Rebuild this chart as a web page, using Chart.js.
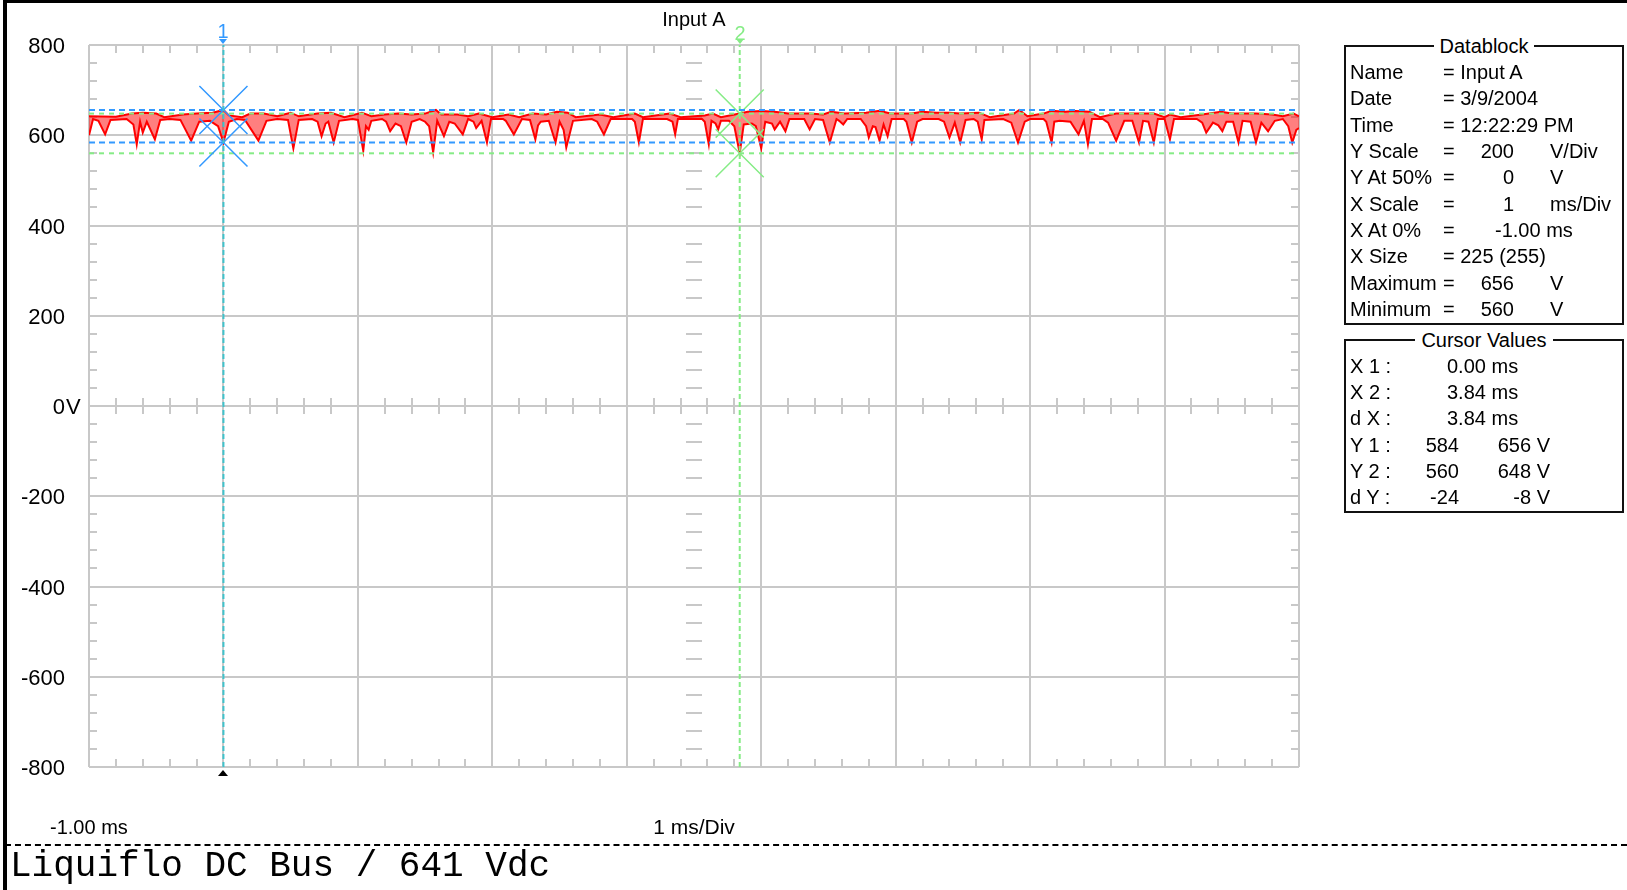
<!DOCTYPE html>
<html>
<head>
<meta charset="utf-8">
<title>Input A</title>
<script src="https://cdn.jsdelivr.net/npm/chart.js@4"></script>
<style>
  body { margin: 0; background: #fff; font-family: "Liberation Sans", Arial, sans-serif; color: #000; }
  #page { position: relative; width: 1627px; height: 890px; overflow: hidden; }
  #chartBox { position: absolute; left: 0; top: 0; width: 1627px; height: 890px; }
  .frameL { position: absolute; left: 3px; top: 0; width: 4px; height: 890px; background: #000; }
  .frameT { position: absolute; left: 3px; top: 0; width: 1624px; height: 3px; background: #000; }
  .xlabel { position: absolute; top: 815px; left: 50px; font-size: 20px; line-height: 24px; }
  .sep { position: absolute; left: 5px; top: 844px; width: 1622px; border-top: 2px dashed #000; }
  .caption { position: absolute; left: 10px; top: 848px; font: 36px/38px "Liberation Mono", "Courier New", monospace; white-space: pre; }
  .panel { position: absolute; left: 1344px; width: 276px; border: 2px solid #111; }
  .panel .legend { position: absolute; top: -13px; left: 0; right: 0; text-align: center; font-size: 20px; line-height: 24px; }
  .panel .legend span { background: #fff; padding: 0 6px; }
  .row { position: absolute; left: 0; right: 0; height: 24px; font-size: 20px; line-height: 24px; }
  .row span { position: absolute; top: 0; white-space: pre; }
  .k { left: 4px; }
  .eq { left: 97px; }
  .num { right: 108px; }
  .unit { left: 204px; }
  .xat { left: 149px; }
  .cv { left: 101px; }
  .c1 { right: 163px; }
  .c2 { right: 72px; }
</style>
</head>
<body>
<div id="page">
  <div id="chartBox"><canvas id="scope"></canvas></div>
  <div class="frameL"></div>
  <div class="frameT"></div>
  <div class="xlabel">-1.00 ms</div>
  <div class="sep"></div>
  <div class="caption">Liquiflo DC Bus / 641 Vdc</div>

  <div class="panel" style="top:45px;height:276px;">
    <div class="legend"><span>Datablock</span></div>
    <div class="row" style="top:13px"><span class="k">Name</span><span class="eq">= Input A</span></div>
    <div class="row" style="top:39px"><span class="k">Date</span><span class="eq">= 3/9/2004</span></div>
    <div class="row" style="top:66px"><span class="k">Time</span><span class="eq">= 12:22:29 PM</span></div>
    <div class="row" style="top:92px"><span class="k">Y Scale</span><span class="eq">=</span><span class="num">200</span><span class="unit">V/Div</span></div>
    <div class="row" style="top:118px"><span class="k">Y At 50%</span><span class="eq">=</span><span class="num">0</span><span class="unit">V</span></div>
    <div class="row" style="top:145px"><span class="k">X Scale</span><span class="eq">=</span><span class="num">1</span><span class="unit">ms/Div</span></div>
    <div class="row" style="top:171px"><span class="k">X At 0%</span><span class="eq">=</span><span class="xat">-1.00 ms</span></div>
    <div class="row" style="top:197px"><span class="k">X Size</span><span class="eq">= 225 (255)</span></div>
    <div class="row" style="top:224px"><span class="k">Maximum</span><span class="eq">=</span><span class="num">656</span><span class="unit">V</span></div>
    <div class="row" style="top:250px"><span class="k">Minimum</span><span class="eq">=</span><span class="num">560</span><span class="unit">V</span></div>
  </div>

  <div class="panel" style="top:339px;height:170px;">
    <div class="legend"><span>Cursor Values</span></div>
    <div class="row" style="top:13px"><span class="k">X 1 :</span><span class="cv">0.00 ms</span></div>
    <div class="row" style="top:39px"><span class="k">X 2 :</span><span class="cv">3.84 ms</span></div>
    <div class="row" style="top:65px"><span class="k">d X :</span><span class="cv">3.84 ms</span></div>
    <div class="row" style="top:92px"><span class="k">Y 1 :</span><span class="c1">584</span><span class="c2">656 V</span></div>
    <div class="row" style="top:118px"><span class="k">Y 2 :</span><span class="c1">560</span><span class="c2">648 V</span></div>
    <div class="row" style="top:144px"><span class="k">d Y :</span><span class="c1">-24</span><span class="c2">-8 V</span></div>
  </div>
</div>

<script>
// axis ranges (ms / V)
const xRange = [-1, 8];
const yRange = [-800, 800];
const yStep = 200;

// lower envelope of Input A (time in ms, volts)
const minTimeMs = [-1.00, -0.97, -0.93, -0.88, -0.84, -0.72, -0.67, -0.645, -0.62, -0.60, -0.57, -0.51, -0.47, -0.40, -0.32, -0.24, -0.18, -0.10, -0.04, 0.00,
  0.04, 0.10, 0.16, 0.26, 0.32, 0.40, 0.48, 0.52, 0.56, 0.66, 0.70, 0.73, 0.76, 0.78, 0.82, 0.86, 0.96, 1.00, 1.04, 1.06,
  1.08, 1.10, 1.18, 1.21, 1.24, 1.28, 1.32, 1.36, 1.40, 1.46, 1.50, 1.53, 1.56, 1.59, 1.64, 1.68, 1.72, 1.78, 1.82, 1.86,
  1.88, 1.92, 1.96, 1.99, 2.08, 2.10, 2.16, 2.22, 2.28, 2.32, 2.34, 2.36, 2.42, 2.47, 2.50, 2.53, 2.55, 2.60, 2.74, 2.78,
  2.83, 2.88, 3.04, 3.06, 3.09, 3.12, 3.30, 3.34, 3.36, 3.38, 3.56, 3.58, 3.61, 3.63, 3.66, 3.68, 3.70, 3.76, 3.80, 3.84,
  3.87, 3.93, 3.96, 4.00, 4.03, 4.08, 4.10, 4.14, 4.18, 4.21, 4.32, 4.36, 4.40, 4.46, 4.51, 4.56, 4.58, 4.61, 4.64, 4.74,
  4.78, 4.80, 4.83, 4.85, 4.88, 4.91, 4.94, 4.97, 5.06, 5.08, 5.12, 5.16, 5.20, 5.32, 5.36, 5.40, 5.44, 5.48, 5.52, 5.58,
  5.61, 5.64, 5.66, 5.80, 5.86, 5.91, 5.96, 6.00, 6.10, 6.12, 6.16, 6.18, 6.22, 6.30, 6.36, 6.40, 6.43, 6.46, 6.54, 6.58,
  6.64, 6.70, 6.76, 6.81, 6.84, 6.88, 6.92, 6.95, 7.00, 7.04, 7.07, 7.24, 7.28, 7.31, 7.36, 7.40, 7.43, 7.46, 7.51, 7.55,
  7.58, 7.64, 7.68, 7.72, 7.77, 7.82, 7.88, 7.92, 7.95, 7.98, 8.00];
const minVolts = [600, 636, 632, 602, 634, 636, 624, 580, 630, 606, 630, 591, 634, 636, 634, 588, 630, 632, 620, 584,
  630, 636, 634, 588, 632, 636, 634, 571, 634, 636, 630, 598, 626, 630, 584, 632, 636, 634, 566, 620,
  612, 632, 636, 630, 609, 626, 620, 584, 630, 636, 630, 620, 562, 632, 598, 630, 626, 602, 636, 630,
  616, 632, 584, 636, 636, 632, 602, 636, 634, 591, 622, 630, 632, 584, 630, 612, 573, 632, 636, 630,
  602, 636, 636, 630, 584, 636, 636, 630, 602, 636, 636, 630, 580, 632, 626, 613, 632, 632, 620, 560,
  624, 626, 620, 571, 630, 626, 613, 630, 609, 636, 636, 613, 636, 634, 584, 636, 632, 624, 636, 636,
  620, 595, 620, 618, 588, 624, 598, 636, 636, 630, 584, 630, 636, 636, 630, 595, 628, 584, 634, 636,
  630, 591, 634, 636, 628, 584, 630, 636, 636, 630, 584, 630, 632, 630, 602, 632, 580, 636, 636, 628,
  588, 632, 632, 584, 632, 630, 584, 636, 636, 591, 636, 636, 628, 606, 628, 622, 609, 630, 630, 584,
  632, 630, 584, 628, 609, 632, 636, 620, 584, 612, 616];

// upper envelope of Input A
const maxTimeMs = [-1.00, -0.80, -0.68, -0.60, -0.50, -0.44, -0.30, -0.20, -0.08, 0.00, 0.04, 0.14, 0.20, 0.30, 0.40, 0.50, 0.56, 0.70, 0.80, 0.90,
  1.03, 1.10, 1.20, 1.30, 1.40, 1.50, 1.58, 1.62, 1.74, 1.82, 1.90, 2.00, 2.12, 2.20, 2.30, 2.40, 2.48, 2.56, 2.62, 2.80,
  2.90, 3.06, 3.12, 3.32, 3.40, 3.58, 3.64, 3.70, 3.84, 3.90, 4.00, 4.10, 4.20, 4.36, 4.46, 4.52, 4.62, 4.78, 4.88, 4.96,
  5.12, 5.20, 5.30, 5.40, 5.48, 5.62, 5.70, 5.88, 5.92, 5.98, 6.10, 6.16, 6.26, 6.34, 6.44, 6.52, 6.64, 6.80, 6.92, 7.00,
  7.04, 7.12, 7.28, 7.42, 7.50, 7.56, 7.68, 7.80, 7.88, 7.96, 8.00];
const maxVolts = [642, 641, 648, 650, 648, 640, 646, 648, 650, 656, 644, 640, 648, 648, 642, 650, 642, 648, 650, 640,
  650, 642, 646, 648, 646, 648, 656, 646, 646, 642, 648, 640, 646, 640, 648, 646, 652, 650, 640, 646,
  640, 648, 640, 648, 640, 644, 648, 640, 648, 652, 654, 652, 648, 648, 646, 652, 648, 650, 654, 648,
  648, 652, 650, 650, 648, 650, 640, 648, 656, 642, 648, 654, 652, 654, 652, 640, 648, 648, 648, 640,
  646, 640, 646, 652, 648, 648, 648, 646, 642, 648, 642];

// cursors: x position (ms) and their two y readings (V)
const cursorX = [0.00, 3.84];
const cursor1Volts = [584, 656];
const cursor2Volts = [560, 648];

const cursorVolts = [cursor1Volts, cursor2Volts];
const cursorColors = ['#3399ff', '#86ec86'];
const cursorLineColors = ['#3fc3cc', '#86ec86'];
const cursorTagLift = [13, 11];
const gridColor = '#c8c8c8';

const datasets = [];
cursorX.forEach((cx, i) => {
  datasets.push({
    data: [{x: cx, y: yRange[0]}, {x: cx, y: yRange[1]}],
    borderColor: cursorLineColors[i], borderWidth: 2, borderDash: [5, 3], pointRadius: 0
  });
  datasets.push({
    data: cursorVolts[i].map(v => ({x: cx, y: v})),
    showLine: false, pointStyle: 'crossRot', pointRadius: 34, pointHoverRadius: 34,
    borderColor: cursorColors[i], pointBorderWidth: 1.5
  });
  cursorVolts[i].forEach(v => {
    datasets.push({
      data: [{x: xRange[0], y: v}, {x: xRange[1], y: v}],
      borderColor: cursorColors[i], borderWidth: 2, borderDash: i === 0 ? [6, 4] : [5, 5], pointRadius: 0
    });
  });
});
datasets.push({
  data: maxTimeMs.map((t, k) => ({x: t, y: maxVolts[k]})),
  borderColor: '#ff0000', borderWidth: 2, pointRadius: 0, tension: 0
});
datasets.push({
  data: minTimeMs.map((t, k) => ({x: t, y: minVolts[k]})),
  borderColor: '#ff0000', borderWidth: 2, pointRadius: 0, tension: 0,
  fill: '-1', backgroundColor: 'rgba(255, 0, 0, 0.5)'
});

// minor ticks, centre axes, cursor tags
const scopeDecor = {
  id: 'scopeDecor',
  beforeDatasetsDraw(chart) {
    const {ctx, chartArea: a, scales: {x, y}} = chart;
    const cx = x.getPixelForValue((xRange[0] + xRange[1]) / 2);
    const cy = y.getPixelForValue(0);
    ctx.save();
    ctx.strokeStyle = gridColor;
    ctx.lineWidth = 2;
    ctx.beginPath();
    for (let i = 1; i < (xRange[1] - xRange[0]) * 5; i++) {
      if (i % 5 === 0) continue;
      const px = Math.round(x.getPixelForValue(xRange[0] + i * 0.2));
      ctx.moveTo(px, a.top); ctx.lineTo(px, a.top + 8);
      ctx.moveTo(px, a.bottom - 8); ctx.lineTo(px, a.bottom);
      ctx.moveTo(px, cy - 8); ctx.lineTo(px, cy + 8);
    }
    for (let i = 1; i < (yRange[1] - yRange[0]) / 40; i++) {
      if (i % 5 === 0) continue;
      const py = Math.round(y.getPixelForValue(yRange[0] + i * 40));
      ctx.moveTo(a.left, py); ctx.lineTo(a.left + 8, py);
      ctx.moveTo(a.right - 8, py); ctx.lineTo(a.right, py);
      ctx.moveTo(cx - 8, py); ctx.lineTo(cx + 8, py);
    }
    ctx.stroke();
    ctx.restore();
  },
  afterDraw(chart) {
    const {ctx, chartArea: a, scales: {x, y}} = chart;
    ctx.save();
    ctx.font = '22px "Liberation Sans", Arial, sans-serif';
    ctx.fillStyle = '#000';
    ctx.textAlign = 'left';
    ctx.textBaseline = 'middle';
    ctx.fillText('V', a.left - 23, y.getPixelForValue(0) + 2);
    cursorX.forEach((cv, i) => {
      const px = Math.round(x.getPixelForValue(cv));
      ctx.fillStyle = cursorColors[i];
      ctx.font = '20px "Liberation Sans", Arial, sans-serif';
      ctx.textAlign = 'center';
      ctx.fillText(String(i + 1), px, a.top - cursorTagLift[i]);
      ctx.beginPath();
      ctx.moveTo(px - 4, a.top - 6); ctx.lineTo(px + 4, a.top - 6); ctx.lineTo(px, a.top - 1);
      ctx.closePath(); ctx.fill();
    });
    const p1 = Math.round(x.getPixelForValue(cursorX[0]));
    ctx.fillStyle = '#000';
    ctx.beginPath();
    ctx.moveTo(p1 - 5, a.bottom + 9); ctx.lineTo(p1 + 5, a.bottom + 9); ctx.lineTo(p1, a.bottom + 3);
    ctx.closePath(); ctx.fill();
    ctx.restore();
  }
};

Chart.defaults.font.family = '"Liberation Sans", Arial, sans-serif';

new Chart(document.getElementById('scope'), {
  type: 'line',
  data: { datasets: datasets },
  options: {
    responsive: true,
    maintainAspectRatio: false,
    animation: false,
    events: [],
    layout: { padding: { left: 0, right: 328, top: 0, bottom: 45 } },
    plugins: {
      legend: { display: false },
      tooltip: { enabled: false },
      title: {
        display: true, text: 'Input A', fullSize: false, color: '#000',
        font: { size: 20, weight: 'normal' }, padding: { top: 8, bottom: 13 }
      }
    },
    scales: {
      x: {
        type: 'linear', min: xRange[0], max: xRange[1],
        ticks: { display: false, stepSize: 1 },
        grid: { color: gridColor, lineWidth: 2, drawTicks: false },
        border: { display: false },
        title: { display: true, text: '1 ms/Div', color: '#000', font: { size: 21 }, padding: { top: 50, bottom: 4 } },
        afterFit(scale) { scale.height = 78; }
      },
      y: {
        min: yRange[0], max: yRange[1],
        ticks: {
          stepSize: yStep, color: '#000', font: { size: 22 }, padding: 24, labelOffset: 2,
          callback: v => (v === 0 ? '0' : String(v))
        },
        grid: { color: gridColor, lineWidth: 2, drawTicks: false },
        border: { display: false },
        afterFit(scale) { scale.width = 89; }
      }
    }
  },
  plugins: [scopeDecor]
});
</script>
</body>
</html>
